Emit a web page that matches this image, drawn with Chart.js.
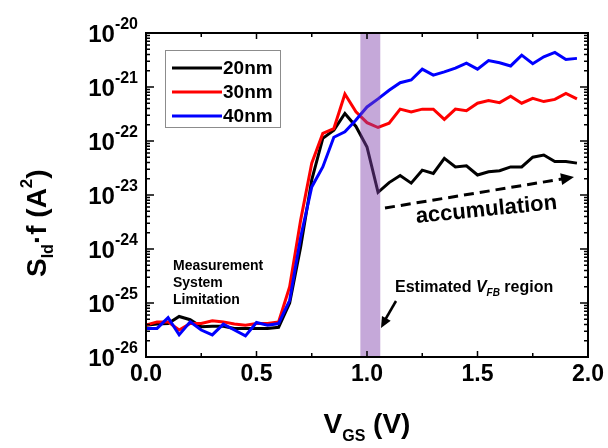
<!DOCTYPE html>
<html>
<head>
<meta charset="utf-8">
<script src="https://cdn.jsdelivr.net/npm/chart.js@4"></script>
<style>
  html, body { margin: 0; padding: 0; background: #fff; }
</style>
</head>
<body>
<canvas id="noiseChart" width="608" height="448"></canvas>
<script>
// V_GS (V)
const vgs = [0.00, 0.05, 0.10, 0.15, 0.20, 0.25, 0.30, 0.35, 0.40, 0.45,
             0.50, 0.55, 0.60, 0.65, 0.70, 0.75, 0.80, 0.85, 0.90, 0.95,
             1.00, 1.05, 1.10, 1.15, 1.20, 1.25, 1.30, 1.35, 1.40, 1.45,
             1.50, 1.55, 1.60, 1.65, 1.70, 1.75, 1.80, 1.85, 1.90, 1.95];

// log10(S_Id * f)
const log20nm = [-25.41, -25.39, -25.38, -25.25, -25.31, -25.44, -25.43, -25.43, -25.47, -25.47,
                 -25.47, -25.47, -25.45, -25.00, -23.96, -22.72, -21.95, -21.80, -21.49, -21.73,
                 -22.11, -22.95, -22.77, -22.64, -22.78, -22.54, -22.60, -22.32, -22.48, -22.46,
                 -22.63, -22.57, -22.55, -22.48, -22.48, -22.30, -22.26, -22.38, -22.38, -22.41];
const log30nm = [-25.41, -25.35, -25.35, -25.50, -25.38, -25.38, -25.33, -25.35, -25.39, -25.41,
                 -25.38, -25.38, -25.35, -24.70, -23.46, -22.41, -21.86, -21.77, -21.13, -21.46,
                 -21.66, -21.75, -21.67, -21.41, -21.46, -21.41, -21.41, -21.60, -21.41, -21.44,
                 -21.30, -21.25, -21.29, -21.17, -21.30, -21.21, -21.27, -21.23, -21.12, -21.22];
const log40nm = [-25.47, -25.47, -25.27, -25.59, -25.35, -25.50, -25.59, -25.39, -25.50, -25.61,
                 -25.36, -25.41, -25.38, -24.95, -23.78, -22.85, -22.48, -21.93, -21.83, -21.61,
                 -21.37, -21.22, -21.06, -20.92, -20.87, -20.67, -20.78, -20.72, -20.65, -20.56,
                 -20.67, -20.51, -20.55, -20.61, -20.41, -20.57, -20.44, -20.36, -20.49, -20.47];

const seriesNames = ['20nm', '30nm', '40nm'];
const xTickValues = [0, 0.5, 1.0, 1.5, 2.0];
const xTickLabels = ['0.0', '0.5', '1.0', '1.5', '2.0'];
const yDecades = [-26, -25, -24, -23, -22, -21, -20];
const vfbBand = [0.97, 1.06];

const FONT = '"Liberation Sans", Arial, sans-serif';

function toPoints(logs) {
    return vgs.map((v, i) => ({ x: v, y: Math.pow(10, logs[i]) }));
}

function arrowHead(ctx, x1, y1, x2, y2, len, wid) {
    const a = Math.atan2(y2 - y1, x2 - x1);
    ctx.beginPath();
    ctx.moveTo(x2, y2);
    ctx.lineTo(x2 - len * Math.cos(a) + wid * Math.sin(a), y2 - len * Math.sin(a) - wid * Math.cos(a));
    ctx.lineTo(x2 - len * Math.cos(a) - wid * Math.sin(a), y2 - len * Math.sin(a) + wid * Math.cos(a));
    ctx.closePath();
    ctx.fill();
}

// draws runs of text, each piece: [text, size, dy, italic]
function drawRuns(ctx, runs, x, y) {
    runs.forEach(r => {
        ctx.font = (r[3] ? 'italic ' : '') + 'bold ' + r[1] + 'px ' + FONT;
        ctx.fillText(r[0], x, y + r[2]);
        x += ctx.measureText(r[0]).width;
    });
    return x;
}
function runsWidth(ctx, runs) {
    let w = 0;
    runs.forEach(r => {
        ctx.font = (r[3] ? 'italic ' : '') + 'bold ' + r[1] + 'px ' + FONT;
        w += ctx.measureText(r[0]).width;
    });
    return w;
}

const decorPlugin = {
    id: 'decor',
    beforeDraw(chart) {
        const ctx = chart.ctx;
        ctx.save();
        ctx.fillStyle = '#fff';
        ctx.fillRect(0, 0, chart.width, chart.height);
        ctx.restore();
    },
    afterDatasetsDraw(chart) {
        // estimated V_FB band, laid over the curves
        const ctx = chart.ctx, a = chart.chartArea, xs = chart.scales.x;
        const x1 = xs.getPixelForValue(vfbBand[0]), x2 = xs.getPixelForValue(vfbBand[1]);
        ctx.save();
        ctx.fillStyle = 'rgba(128, 66, 172, 0.46)';
        ctx.fillRect(x1, a.top, x2 - x1, a.bottom - a.top);
        ctx.restore();
    },
    afterDraw(chart) {
        const ctx = chart.ctx, a = chart.chartArea;
        const xs = chart.scales.x, ys = chart.scales.y;
        ctx.save();
        ctx.strokeStyle = '#000';
        ctx.fillStyle = '#000';

        // frame
        ctx.lineWidth = 2;
        ctx.strokeRect(a.left, a.top, a.right - a.left, a.bottom - a.top);

        // x ticks (inward, mirrored on top)
        ctx.lineWidth = 1.5;
        ctx.beginPath();
        for (let v = 0; v <= 2.0001; v += 0.25) {
            const px = xs.getPixelForValue(v);
            const len = (Math.round(v * 4) % 2 === 0) ? 6 : 4;
            ctx.moveTo(px, a.bottom); ctx.lineTo(px, a.bottom - len);
            ctx.moveTo(px, a.top); ctx.lineTo(px, a.top + len);
        }
        // y ticks, decades and 2..9 minors
        yDecades.forEach(e => {
            const py = ys.getPixelForValue(Math.pow(10, e));
            ctx.moveTo(a.left, py); ctx.lineTo(a.left + 8, py);
            ctx.moveTo(a.right, py); ctx.lineTo(a.right - 8, py);
            if (e < -20) {
                for (let m = 2; m <= 9; m++) {
                    const pm = ys.getPixelForValue(m * Math.pow(10, e));
                    ctx.moveTo(a.left, pm); ctx.lineTo(a.left + 4, pm);
                    ctx.moveTo(a.right, pm); ctx.lineTo(a.right - 4, pm);
                }
            }
        });
        ctx.stroke();

        // x tick labels
        ctx.font = 'bold 23px ' + FONT;
        ctx.textAlign = 'center';
        ctx.textBaseline = 'middle';
        xTickValues.forEach((v, i) => {
            ctx.fillText(xTickLabels[i], xs.getPixelForValue(v), a.bottom + 18);
        });

        // y tick labels: 10 with raised exponent
        yDecades.forEach(e => {
            const py = ys.getPixelForValue(Math.pow(10, e));
            ctx.textAlign = 'right';
            ctx.textBaseline = 'alphabetic';
            ctx.font = 'bold 16px ' + FONT;
            const expText = String(e);
            const ew = ctx.measureText(expText).width;
            const right = a.left - 8;
            ctx.fillText(expText, right, py - 4);
            ctx.font = 'bold 24px ' + FONT;
            ctx.fillText('10', right - ew, py + 9);
        });

        // x title: V_GS (V)
        ctx.textAlign = 'left';
        ctx.textBaseline = 'alphabetic';
        const xRuns = [['V', 28, 0], ['GS', 16, 8], [' (V)', 28, 0]];
        const xw = runsWidth(ctx, xRuns);
        drawRuns(ctx, xRuns, (a.left + a.right) / 2 - xw / 2, 433);

        // y title: S_Id.f (A^2)
        ctx.save();
        ctx.translate(46, 277);
        ctx.rotate(-Math.PI / 2);
        drawRuns(ctx, [['S', 28, 0], ['Id', 16, 7], ['\u00b7f ', 28, 0], ['(A', 28, 0], ['2', 17, -14], [')', 28, 0]], 0, 0);
        ctx.restore();

        // legend
        ctx.strokeStyle = '#8c8c8c';
        ctx.lineWidth = 1;
        ctx.strokeRect(165.5, 50.5, 115, 77);
        ctx.textBaseline = 'middle';
        ctx.font = 'bold 19px ' + FONT;
        chart.data.datasets.forEach((ds, i) => {
            const ry = 68 + i * 24;
            ctx.strokeStyle = ds.borderColor;
            ctx.lineWidth = 3;
            ctx.beginPath();
            ctx.moveTo(172, ry); ctx.lineTo(222, ry);
            ctx.stroke();
            ctx.fillStyle = '#000';
            ctx.fillText(ds.label, 223, ry + 1);
        });

        // annotations
        ctx.fillStyle = '#000';
        ctx.strokeStyle = '#000';
        ctx.textBaseline = 'alphabetic';
        ctx.font = 'bold 14px ' + FONT;
        ctx.fillText('Measurement', 173, 270);
        ctx.fillText('System', 173, 287);
        ctx.fillText('Limitation', 173, 304);

        drawRuns(ctx, [['Estimated ', 16, 0], ['V', 16, 0, true], ['FB', 10, 4, true], [' region', 16, 0]], 395, 292);

        ctx.lineWidth = 2.5;
        ctx.beginPath();
        ctx.moveTo(396, 301); ctx.lineTo(385, 320);
        ctx.stroke();
        arrowHead(ctx, 396, 301, 381, 328, 11, 5);

        ctx.save();
        ctx.translate(487, 216);
        ctx.rotate(-0.1);
        ctx.textAlign = 'center';
        ctx.font = 'bold 22px ' + FONT;
        ctx.fillText('accumulation', 0, 0);
        ctx.restore();

        ctx.lineWidth = 3;
        ctx.setLineDash([10, 6]);
        ctx.beginPath();
        ctx.moveTo(385, 208); ctx.lineTo(562, 179);
        ctx.stroke();
        ctx.setLineDash([]);
        arrowHead(ctx, 385, 208, 574, 177, 13, 6);

        ctx.restore();
    }
};

const colors = ['#000000', '#ff0000', '#0000ff'];
const logs = [log20nm, log30nm, log40nm];

new Chart(document.getElementById('noiseChart'), {
    type: 'line',
    data: {
        datasets: seriesNames.map((name, i) => ({
            label: name,
            data: toPoints(logs[i]),
            borderColor: colors[i],
            borderWidth: 3,
            pointRadius: 0,
            tension: 0,
            fill: false,
            order: 2 - i
        }))
    },
    options: {
        responsive: false,
        animation: false,
        layout: { padding: { left: 146, top: 33, right: 20, bottom: 91 } },
        plugins: { legend: { display: false }, tooltip: { enabled: false } },
        scales: {
            x: { type: 'linear', min: 0, max: 2, display: false },
            y: { type: 'logarithmic', min: 1e-26, max: 1e-20, display: false }
        }
    },
    plugins: [decorPlugin]
});
</script>
</body>
</html>
